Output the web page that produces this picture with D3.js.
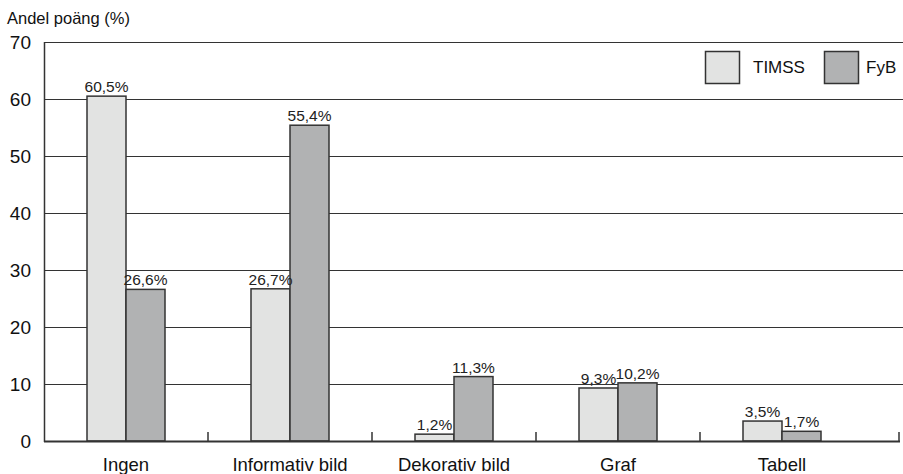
<!DOCTYPE html>
<html>
<head>
<meta charset="utf-8">
<script src="https://cdn.jsdelivr.net/npm/d3@7"></script>
<style>
  html, body { margin: 0; padding: 0; background: #fff; }
  svg { display: block; font-family: "Liberation Sans", Arial, sans-serif; }
</style>
</head>
<body>
<svg id="chart" width="903" height="474"></svg>
<script>
// Andel poäng per bildtyp, TIMSS jämfört med FyB
const categories = ["Ingen", "Informativ bild", "Dekorativ bild", "Graf", "Tabell"];
const seriesNames = ["TIMSS", "FyB"];
const timssValues = [60.5, 26.7, 1.2, 9.3, 3.5];
const fybValues = [26.6, 55.4, 11.3, 10.2, 1.7];
const yTicks = [0, 10, 20, 30, 40, 50, 60, 70];
const yTitle = "Andel poäng (%)";

(function () {
const colors = { TIMSS: "#e2e3e2", FyB: "#b1b2b3" };
const stroke = "#333";

const svg = d3.select("#chart");
const plotLeft = 44, plotTop = 42, plotBottom = 441, bandEnd = 864, axisEnd = 899;

const x = d3.scaleBand().domain(categories).range([plotLeft, bandEnd]).padding(0);
const barW = 39;
const x1 = d3.scaleBand().domain(seriesNames)
  .range([x.bandwidth() / 2 - barW, x.bandwidth() / 2 + barW]).padding(0);
const y = d3.scaleLinear().domain([0, 70]).range([plotBottom, plotTop]);

const rows = categories.map((c, i) => ({
  category: c,
  values: [
    { series: "TIMSS", value: timssValues[i] },
    { series: "FyB", value: fybValues[i] }
  ]
}));

// horizontal gridlines
svg.append("g").selectAll("line")
  .data(yTicks.filter(t => t > 0))
  .join("line")
  .attr("x1", plotLeft).attr("x2", 903)
  .attr("y1", d => Math.round(y(d)) + 0.5).attr("y2", d => Math.round(y(d)) + 0.5)
  .attr("stroke", stroke).attr("stroke-width", 1.2);

// y axis labels
svg.append("g").selectAll("text")
  .data(yTicks)
  .join("text")
  .attr("x", 31).attr("y", d => y(d))
  .attr("dy", "0.36em")
  .attr("text-anchor", "end")
  .attr("font-size", 19)
  .attr("fill", "#111")
  .text(d => d);

// y title
svg.append("text")
  .attr("x", 7).attr("y", 24)
  .attr("font-size", 16.5)
  .attr("fill", "#111")
  .text(yTitle);

// bars
const groups = svg.append("g").selectAll("g")
  .data(rows)
  .join("g")
  .attr("transform", d => `translate(${x(d.category)},0)`);

groups.selectAll("rect")
  .data(d => d.values)
  .join("rect")
  .attr("x", d => x1(d.series))
  .attr("y", d => y(d.value))
  .attr("width", x1.bandwidth())
  .attr("height", d => plotBottom - y(d.value))
  .attr("fill", d => colors[d.series])
  .attr("stroke", stroke)
  .attr("stroke-width", 1.5);

groups.selectAll("text")
  .data(d => d.values)
  .join("text")
  .attr("x", d => x1(d.series) + x1.bandwidth() / 2)
  .attr("y", d => y(d.value) - 4)
  .attr("text-anchor", "middle")
  .attr("font-size", 15.5)
  .attr("fill", "#222")
  .text(d => d.value.toFixed(1).replace(".", ",") + "%");

// axis lines
svg.append("line")
  .attr("x1", plotLeft + 0.5).attr("x2", plotLeft + 0.5)
  .attr("y1", plotTop).attr("y2", plotBottom + 1)
  .attr("stroke", stroke).attr("stroke-width", 1.5);
svg.append("line")
  .attr("x1", plotLeft).attr("x2", axisEnd + 1)
  .attr("y1", plotBottom + 0.5).attr("y2", plotBottom + 0.5)
  .attr("stroke", stroke).attr("stroke-width", 2);

// category separator ticks
const tickXs = categories.slice(1).map(c => x(c)).concat([axisEnd]);
svg.append("g").selectAll("line")
  .data(tickXs)
  .join("line")
  .attr("x1", d => d).attr("x2", d => d)
  .attr("y1", plotBottom - 9).attr("y2", plotBottom)
  .attr("stroke", stroke).attr("stroke-width", 1.5);

// category labels
svg.append("g").selectAll("text")
  .data(categories)
  .join("text")
  .attr("x", d => x(d) + x.bandwidth() / 2)
  .attr("y", 471)
  .attr("text-anchor", "middle")
  .attr("font-size", 18.5)
  .attr("fill", "#111")
  .text(d => d);

// legend
const legendItems = [
  { name: "TIMSS", bx: 705, tx: 753 },
  { name: "FyB", bx: 824, tx: 866 }
];
const lg = svg.append("g").selectAll("g").data(legendItems).join("g");
lg.append("rect")
  .attr("x", d => d.bx + 0.5).attr("y", 51.5)
  .attr("width", 34).attr("height", 32)
  .attr("fill", d => colors[d.name])
  .attr("stroke", stroke).attr("stroke-width", 1.5);
lg.append("text")
  .attr("x", d => d.tx).attr("y", 67)
  .attr("dy", "0.36em")
  .attr("font-size", 17)
  .attr("fill", "#111")
  .text(d => d.name);
})();
</script>
</body>
</html>
